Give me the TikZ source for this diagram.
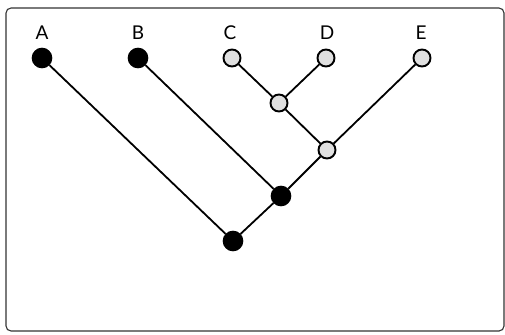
\documentclass[tikz,border=0pt]{standalone}
\usepackage{fontspec}
\setmainfont{Lato}
\begin{document}
\begin{tikzpicture}[x=1pt,y=-1pt,
  blk/.style={circle,draw=black,fill=black,line width=1.6pt,minimum size=19pt,inner sep=0pt},
  wht/.style={circle,draw=black,fill=black!12,line width=1.9pt,minimum size=17pt,inner sep=0pt},
  edge/.style={line width=1.8pt,black},
  lbl/.style={font=\fontsize{19}{19}\selectfont,inner sep=0pt}]
\useasboundingbox (0,0) rectangle (505,334);
\draw[black!80,line width=1.1pt,rounded corners=5pt] (6,8) rectangle (504,331);
\node[wht] (C) at (232,58) {};
\node[wht] (D) at (326,58) {};
\node[wht] (E) at (422,58) {};
\node[wht] (CD) at (279,103) {};
\node[wht] (CDE) at (327,150) {};
\node[blk] (A) at (42,58) {};
\node[blk] (B) at (138,58) {};
\node[blk] (BX) at (281,196) {};
\node[blk] (R) at (233,241) {};
\draw[edge] (A) -- (R);
\draw[edge] (R) -- (BX);
\draw[edge] (B) -- (BX);
\draw[edge] (BX) -- (CDE);
\draw[edge] (CDE) -- (E);
\draw[edge] (CDE) -- (CD);
\draw[edge] (CD) -- (C);
\draw[edge] (CD) -- (D);
\node[lbl] (lA) at (42,33) {A};
\node[lbl] (lB) at (138,33) {B};
\node[lbl] (lC) at (230,33) {C};
\node[lbl] (lD) at (327,33) {D};
\node[lbl] (lE) at (421,33) {E};
\end{tikzpicture}
\end{document}
